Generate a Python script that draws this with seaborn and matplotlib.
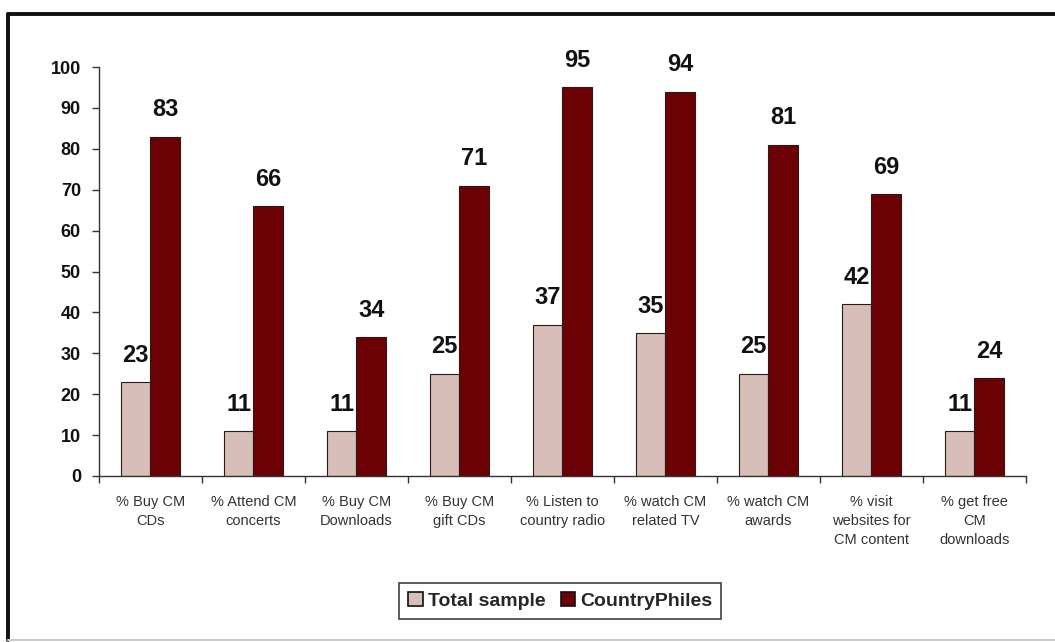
import matplotlib
matplotlib.use("Agg")
import matplotlib.pyplot as plt
from matplotlib.patches import Rectangle
from matplotlib.lines import Line2D
import seaborn as sns
import pandas as pd
import numpy as np

categories = [
    "% Buy CM\nCDs",
    "% Attend CM\nconcerts",
    "% Buy CM\nDownloads",
    "% Buy CM\ngift CDs",
    "% Listen to\ncountry radio",
    "% watch CM\nrelated TV",
    "% watch CM\nawards",
    "% visit\nwebsites for\nCM content",
    "% get free\nCM\ndownloads",
]
total_sample = [23, 11, 11, 25, 37, 35, 25, 42, 11]
country_philes = [83, 66, 34, 71, 95, 94, 81, 69, 24]
series_names = ["Total sample", "CountryPhiles"]
y_ticks = [0, 10, 20, 30, 40, 50, 60, 70, 80, 90, 100]

df = pd.DataFrame({
    "category": categories * 2,
    "value": total_sample + country_philes,
    "series": [series_names[0]] * len(categories) + [series_names[1]] * len(categories),
})

sns.set_theme(style="white")
plt.rcParams["font.family"] = ["Liberation Sans", "DejaVu Sans"]

fig = plt.figure(figsize=(10.55, 6.42), dpi=100)
ax = fig.add_axes([0.0938, 0.2586, 0.8787, 0.637])

palette = {"Total sample": "#D8BEB8", "CountryPhiles": "#6B0104"}
sns.barplot(data=df, x="category", y="value", hue="series", order=categories,
            hue_order=series_names, palette=palette, width=0.58, dodge=True,
            edgecolor="#2a1a1a", linewidth=0.8, saturation=1, ax=ax, legend=True)

# value labels above each bar
for container in ax.containers:
    for bar in container:
        h = bar.get_height()
        ax.annotate(f"{h:.0f}", (bar.get_x() + bar.get_width() / 2, h),
                    xytext=(0, 11), textcoords="offset points",
                    ha="center", va="bottom", fontsize=17, fontweight="bold",
                    color="#111111")

ax.set_xlim(-0.5, len(categories) - 0.5)
ax.set_ylim(0, 100)
ax.set_yticks(y_ticks)
ax.set_yticklabels([str(t) for t in y_ticks], fontsize=13, fontweight="bold", color="#111111")
ax.set_xlabel("")
ax.set_ylabel("")

# category labels at centers, tick marks at category boundaries
ax.set_xticks(range(len(categories)))
ax.set_xticklabels(categories, fontsize=10.5, color="#333333", linespacing=1.45)
ax.set_xticks(np.arange(-0.5, len(categories), 1.0), minor=True)
ax.tick_params(axis="x", which="major", length=0, pad=14)
ax.tick_params(axis="x", which="minor", length=5, width=1, color="#333333", direction="out", bottom=True)
ax.tick_params(axis="y", which="major", length=5, width=1, color="#333333", direction="out", left=True, pad=8)

for side in ["top", "right"]:
    ax.spines[side].set_visible(False)
for side in ["left", "bottom"]:
    ax.spines[side].set_color("#333333")
    ax.spines[side].set_linewidth(1.0)

ax.get_legend().remove()
handles = [Rectangle((0, 0), 1, 1, facecolor=palette[s], edgecolor="#111111", linewidth=1.2)
           for s in series_names]
leg = fig.legend(handles, series_names, loc="center", bbox_to_anchor=(0.531, 0.064),
                 ncol=2, frameon=True, fancybox=False, handlelength=0.75, handleheight=0.75,
                 handletextpad=0.25, columnspacing=0.8, borderpad=0.45,
                 prop={"size": 14, "weight": "bold"})
leg.get_frame().set_edgecolor("#111111")
leg.get_frame().set_linewidth(1.2)

# outer frame: heavy left and top edges, faint bottom edge
fig.add_artist(Line2D([0.0075, 0.0075], [0.003, 0.978], transform=fig.transFigure,
                      color="#111111", linewidth=2.8))
fig.add_artist(Line2D([0.0075, 1.0], [0.978, 0.978], transform=fig.transFigure,
                      color="#111111", linewidth=2.8))
fig.add_artist(Line2D([0.0075, 1.0], [0.003, 0.003], transform=fig.transFigure,
                      color="#cccccc", linewidth=1.5))

fig.savefig("out.png", dpi=100, facecolor="white")
